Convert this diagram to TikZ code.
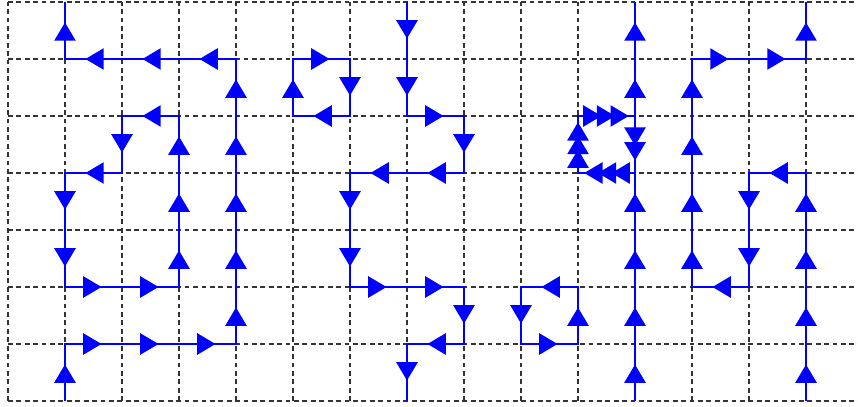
\documentclass[tikz,border=0pt]{standalone}
\usetikzlibrary{decorations.markings}
\newcommand\flowhead{\fill[blue] (0.14,0) -- (-0.18,0.19) -- (-0.18,-0.19) -- cycle;}
\tikzset{
  gridline/.style={draw=black!80, line width=0.55pt, dash pattern=on 2.4pt off 1.8pt},
  blueline/.style={draw=blue, line width=1.35pt},
  flow/.style={blueline, postaction={decorate},
    decoration={markings, mark=between positions 0.5cm and -0.1cm step 1cm with {\flowhead}}},
  marksat/.style={decorate, decoration={markings, mark=at position #1 with {\flowhead}}},
}
\begin{document}
\begin{tikzpicture}[x=1cm,y=1cm]
\useasboundingbox (-0.140,-0.088) rectangle (14.912,7.035);
\clip (-0.140,-0.088) rectangle (14.912,7.035);
% grid
\foreach \i in {0,...,14} \draw[gridline] (\i,0) -- (\i,7);
\foreach \j in {0,...,7} \draw[gridline] (0,\j) -- (15,\j);
% paths
\draw[flow] (1,0) -- (1,1) -- (4,1) -- (4,6) -- (1,6) -- (1,7);
\draw[flow] (3,2) -- (3,5) -- (2,5) -- (2,4) -- (1,4) -- (1,2) -- cycle;
\draw[flow] (5,5) -- (5,6) -- (6,6) -- (6,5) -- cycle;
\draw[flow] (7,7) -- (7,5) -- (8,5) -- (8,4) -- (6,4) -- (6,2) -- (8,2) -- (8,1) -- (7,1) -- (7,0);
\draw[flow] (9,2) -- (9,1) -- (10,1) -- (10,2) -- cycle;
\draw[flow] (11,0) -- (11,4);
\draw[blueline] (11,4) -- (11,5);
\draw[flow] (11,5) -- (11,7);
\draw[blueline] (11,4) -- (10,4) -- (10,5) -- (11,5);
\draw[flow] (14,0) -- (14,4) -- (13,4) -- (13,2) -- (12,2) -- (12,6) -- (14,6) -- (14,7);
% clustered arrowheads of the small loop
\foreach \p in {0.27cm,0.51cm,0.75cm} {
  \path[marksat=\p] (11,4) -- (10,4);
  \path[marksat=\p] (10,4) -- (10,5);
  \path[marksat=\p] (10,5) -- (11,5);
}
\foreach \p in {0.38cm,0.64cm} \path[marksat=\p] (11,5) -- (11,4);
\end{tikzpicture}
\end{document}
